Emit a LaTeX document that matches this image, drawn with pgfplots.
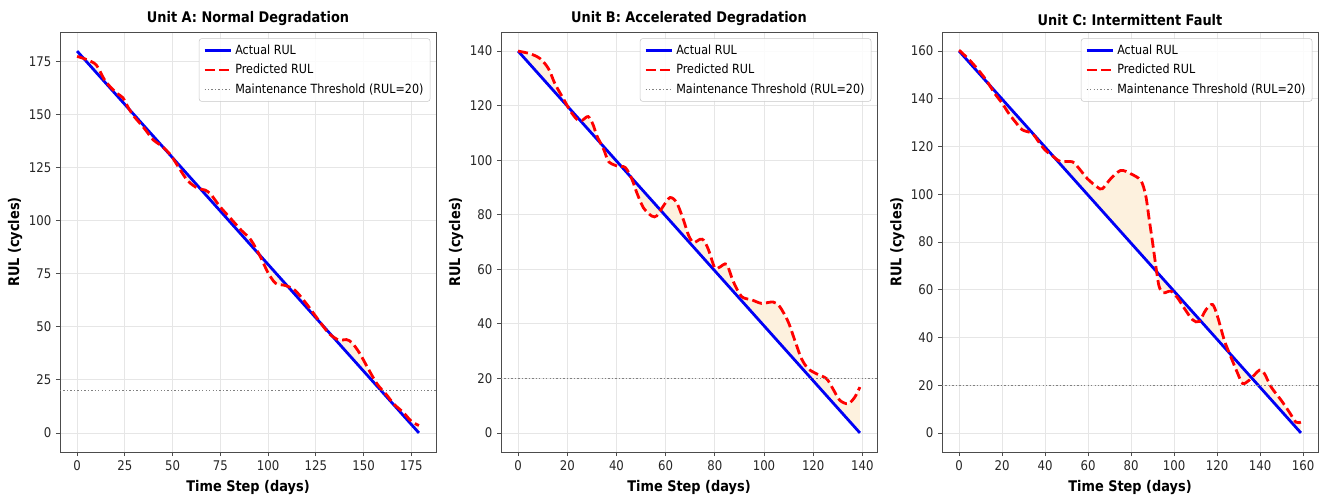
\documentclass[border=0pt]{standalone}
\usepackage{fontspec}
\setmainfont[FakeStretch=0.88]{DejaVu Sans}
\usepackage{pgfplots}
\pgfplotsset{compat=1.18}
\usepgfplotslibrary{fillbetween}
\definecolor{fillc}{RGB}{253,241,222}
\definecolor{gridc}{RGB}{230,230,230}
\definecolor{mblue}{RGB}{0,0,245}
\definecolor{mred}{RGB}{255,0,0}
\pgfplotsset{
  rulstyle/.style={
    set layers,
    scale only axis, width=282pt, height=315pt,
    anchor=south west,
    axis line style={black!70, line width=0.65pt},
    grid=major, major grid style={gridc, line width=0.6pt},
    tick align=outside, xtick pos=bottom, ytick pos=left,
    major tick length=3pt, tick style={black!70, line width=0.6pt},
    /pgf/number format/assume math mode=true,
    ticklabel style={font=\fontsize{10}{12}\selectfont, text=black!85},
    label style={font=\bfseries\fontsize{11}{13}\selectfont},
    ylabel shift=-2pt,
    title style={font=\bfseries\fontsize{11}{13}\selectfont, yshift=-5pt},
    legend style={at={(rel axis cs:0.985,0.985)}, anchor=north east,
      font=\fontsize{9.5}{11}\selectfont, draw=black!22, fill=white,
      fill opacity=0.85, text opacity=1, draw opacity=1, rounded corners=2pt,
      row sep=2pt, inner xsep=3pt, inner ysep=2.5pt},
    legend cell align=left,
    legend image code/.code={\draw[##1] (0pt,0pt) -- (20pt,0pt);},
    xlabel={Time Step (days)}, ylabel={RUL (cycles)},
  },
  act/.style={mblue, line width=2.1pt},
  pred/.style={mred, line width=2.1pt, dash pattern=on 7.5pt off 3.2pt, smooth, tension=0.5},
  thr/.style={black!50, line width=0.9pt, dash pattern=on 1pt off 1.6pt},
}
\begin{document}
\begin{tikzpicture}
\path (0,0) rectangle (990pt,371.25pt);

% ---------- Unit A ----------
\begin{axis}[rulstyle, at={(45pt,32.25pt)},
  title={Unit A: Normal Degradation},
  xmin=-8.95, xmax=187.95, ymin=-9, ymax=189,
  xtick={0,25,50,75,100,125,150,175},
  ytick={0,25,50,75,100,125,150,175}]
\addplot[act, name path=actA] coordinates {(0,180) (179,0)};
\addlegendentry{Actual RUL}
\addplot[pred, name path=predA] coordinates {
(0,177.5)(5,176)(10,173.5)(14,167)(17,163.5)(21,160)(24,158)(27,153)(30,149)
(35,143.8)(40,138)(44,135.5)(49,131)(54,124)(58,118.8)(63,115.4)(67,114.5)
(70,112.5)(75,106.5)(81,100.5)(86,95.5)(91,91)(96,83)(100,75.5)(104,70.5)
(109,69.5)(114,67.3)(120,61)(127,52.5)(132,46.8)(137,43.8)(141,44)(144,42.5)
(148,37.5)(152,31)(157,23.2)(162,18)(166,13.5)(171,9.5)(175,5.5)(179,3.5)};
\addlegendentry{Predicted RUL}
\addplot[thr] coordinates {(-8.95,20) (187.95,20)};
\addlegendentry{Maintenance Threshold (RUL=20)}
\addplot[fillc, forget plot] fill between[of=predA and actA];
\end{axis}

% ---------- Unit B ----------
\begin{axis}[rulstyle, at={(375.75pt,32.25pt)},
  title={Unit B: Accelerated Degradation},
  xmin=-6.95, xmax=145.95, ymin=-7, ymax=147,
  xtick={0,20,40,60,80,100,120,140},
  ytick={0,20,40,60,80,100,120,140}]
\addplot[act, name path=actB] coordinates {(0,140) (139,0)};
\addlegendentry{Actual RUL}
\addplot[pred, name path=predB] coordinates {
(0,140)(5,139)(9,137.2)(12.4,133.5)(15,128)(18.5,122.4)(21.2,118.1)(23.9,115)
(26,114.6)(28.5,116)(30.5,113)(32,109)(34.8,104)(36.8,99.5)(40.2,97.9)(43.6,97.3)
(46.3,93)(48.3,88)(51,82.5)(54.4,79.5)(56.4,79.6)(59,83.1)(61.8,86.3)(64.5,84.4)
(67.2,78.2)(69.3,72.5)(71.3,69.8)(74,71)(75.5,70.6)(77.4,67.2)(80,60.5)(82,60.8)
(84.8,61.8)(87.5,55.5)(90.9,50)(95,48.8)(99,47.5)(103.7,48)(106.4,46.3)(109.8,40.8)
(112.5,34)(115.2,27.3)(117.9,23.6)(121.3,21.7)(125.4,19.9)(128,16.2)(130.8,12)
(134.2,10.7)(136.9,13.1)(139,16.8)};
\addlegendentry{Predicted RUL}
\addplot[thr] coordinates {(-6.95,20) (145.95,20)};
\addlegendentry{Maintenance Threshold (RUL=20)}
\addplot[fillc, forget plot] fill between[of=predB and actB];
\end{axis}

% ---------- Unit C ----------
\begin{axis}[rulstyle, at={(706.5pt,32.25pt)},
  title={Unit C: Intermittent Fault},
  xmin=-7.95, xmax=166.95, ymin=-8, ymax=168,
  xtick={0,20,40,60,80,100,120,140,160},
  ytick={0,20,40,60,80,100,120,140,160}]
\addplot[act, name path=actC] coordinates {(0,160) (159,0)};
\addlegendentry{Actual RUL}
\addplot[pred, name path=predC] coordinates {
(0,160.4)(5.3,155.8)(10,150.9)(13,147.3)(17,141.7)(20,138.2)(23,134)(26,130.5)
(29.4,127)(34,125.5)(37,122)(40,118.5)(43,116.4)(47,113.8)(52.7,113.6)(55.8,110.8)
(59.7,106.5)(64.3,103)(66.6,102.3)(70.5,106.5)(75.2,110)(79.8,108.6)(84.5,105.8)
(86.8,99.5)(88.4,89.6)(90,79.8)(91.5,70)(93,61.5)(95,58.7)(98.5,59.4)(101.6,56.6)
(104.7,52.3)(108.6,47.4)(111.7,46.7)(114.8,51.6)(117.9,53.8)(120.2,48.8)(123.3,39)
(125.7,33.4)(129.6,24.9)(131.9,20.7)(135,22.1)(139.7,26.3)(142,24.9)(145.1,19.3)
(149.8,13.7)(153.6,8.7)(156.7,4.5)(159,4.5)};
\addlegendentry{Predicted RUL}
\addplot[thr] coordinates {(-7.95,20) (166.95,20)};
\addlegendentry{Maintenance Threshold (RUL=20)}
\addplot[fillc, forget plot] fill between[of=predC and actC];
\end{axis}
\end{tikzpicture}
\end{document}
